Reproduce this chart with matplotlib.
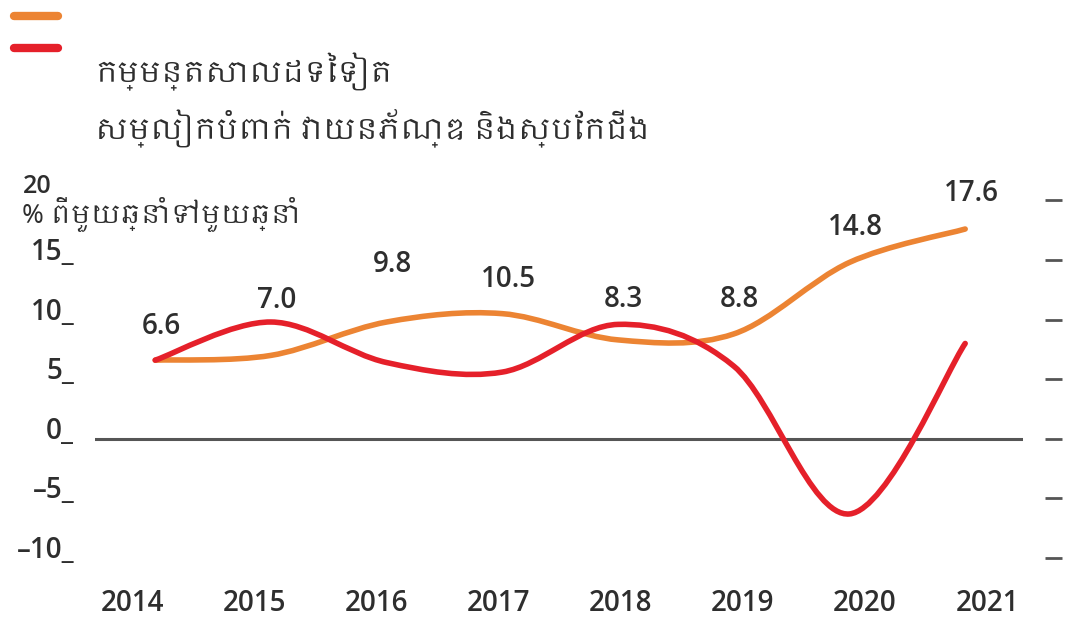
import numpy as np
import matplotlib.pyplot as plt
from matplotlib import font_manager
from matplotlib.ft2font import FT2Font
from matplotlib.path import Path
from matplotlib.patches import PathPatch
from matplotlib.lines import Line2D

# data
years = ['2014', '2015', '2016', '2017', '2018', '2019', '2020', '2021']
garments = [6.6, 7.0, 9.8, 10.5, 8.3, 8.8, 14.8, 17.6]      # orange, labelled
other_mfg = [6.6, 9.8, 6.4, 5.6, 9.6, 6.1, -6.3, 8.0]      # red
yticks = [-10, -5, 0, 5, 10, 15, 20]

title1 = 'កម្មន្តសាលដទៃទៀត'
title2 = 'សម្លៀកបំពាក់ វាយនភ័ណ្ឌ និងស្បែកជើង'
unit_txt = '% ពីមួយឆ្នាំទៅមួយឆ្នាំ'

# label lift above the orange line (data units)
label_lift = [2.8, 4.6, 4.8, 2.9, 3.4, 2.9, 2.9, 3.0]

orange = '#EC8433'
red = '#E5202A'
txtc = '#2e2e2e'

# find something that can draw Khmer, if there is one
khmer = None
for f in font_manager.fontManager.ttflist:
    if 'khmer' in f.name.lower():
        khmer = f.name
        break
if khmer is None:
    for f in font_manager.fontManager.ttflist:
        try:
            if 0x1780 in FT2Font(f.fname).get_charmap():
                khmer = f.name
                break
        except Exception:
            pass
kfam = [khmer, 'DejaVu Sans'] if khmer else ['DejaVu Sans']

plt.rcParams['font.family'] = ['Open Sans', 'DejaVu Sans']
plt.rcParams['font.weight'] = 'semibold'


def smooth_path(xs, ys):
    # catmull-rom through the points, drawn as cubic beziers
    pts = np.column_stack([xs, ys])
    p = np.vstack([pts[0], pts, pts[-1]])
    verts = [tuple(pts[0])]
    codes = [Path.MOVETO]
    for i in range(1, len(p) - 2):
        c1 = p[i] + (p[i + 1] - p[i - 1]) / 6.0
        c2 = p[i + 1] - (p[i + 2] - p[i]) / 6.0
        verts += [tuple(c1), tuple(c2), tuple(p[i + 1])]
        codes += [Path.CURVE4] * 3
    return Path(verts, codes)


fig = plt.figure(figsize=(10.68, 6.19), dpi=100)
ax = fig.add_axes([0.089, 0.0792, 0.8689, 0.6163])
ax.set_xlim(-0.52, 7.5)
ax.set_ylim(-11, 21)

x = np.arange(len(years))
ax.axhline(0, color='#555555', lw=2.2, zorder=1)

for vals, col in [(garments, orange), (other_mfg, red)]:
    ax.add_patch(PathPatch(smooth_path(x, vals), fill=False, edgecolor=col,
                           lw=4.0, capstyle='round', zorder=3))
# invisible lines so the axes knows about the data
ax.plot(x, garments, alpha=0)
ax.plot(x, other_mfg, alpha=0)

for i, v in enumerate(garments):
    ax.text(i + 0.05, v + label_lift[i], f'{v:.1f}', ha='center', va='center',
            fontsize=20, color=txtc)

for s in ax.spines.values():
    s.set_visible(False)
ax.spines['right'].set_position(('outward', 16))

ax.set_yticks(yticks)
ax.set_yticklabels([(str(t).replace('-', '\u2013') + '_') if t != 20 else '' for t in yticks],
                   fontsize=20, color=txtc)
for lbl in ax.get_yticklabels():
    lbl.set_va('baseline')
ax.tick_params(axis='y', left=False, right=True, labelleft=True, labelright=False,
               direction='out', length=12, width=2, color='#555555', pad=3)

ax.set_xticks(np.linspace(-0.2, 7.19, len(years)))
ax.set_xticklabels(years, fontsize=20, color=txtc)
ax.tick_params(axis='x', length=0, pad=14)

# top-left legend marks and heading
for yy, col in [(1 - 16 / 619, orange), (1 - 48 / 619, red)]:
    fig.add_artist(Line2D([14 / 1068, 58 / 1068], [yy, yy], transform=fig.transFigure,
                          lw=6, color=col, solid_capstyle='round'))
fig.text(95 / 1068, 1 - 72 / 619, title1, family=kfam, fontsize=21, color=txtc, va='center')
fig.text(95 / 1068, 1 - 128 / 619, title2, family=kfam, fontsize=21, color=txtc, va='center')

fig.text(23 / 1068, 1 - 187 / 619, '20', fontsize=18, color=txtc, va='center')
fig.text(22 / 1068, 1 - 215 / 619, unit_txt, family=kfam, fontsize=19, color=txtc, va='center')

fig.savefig('out.png', dpi=100)
